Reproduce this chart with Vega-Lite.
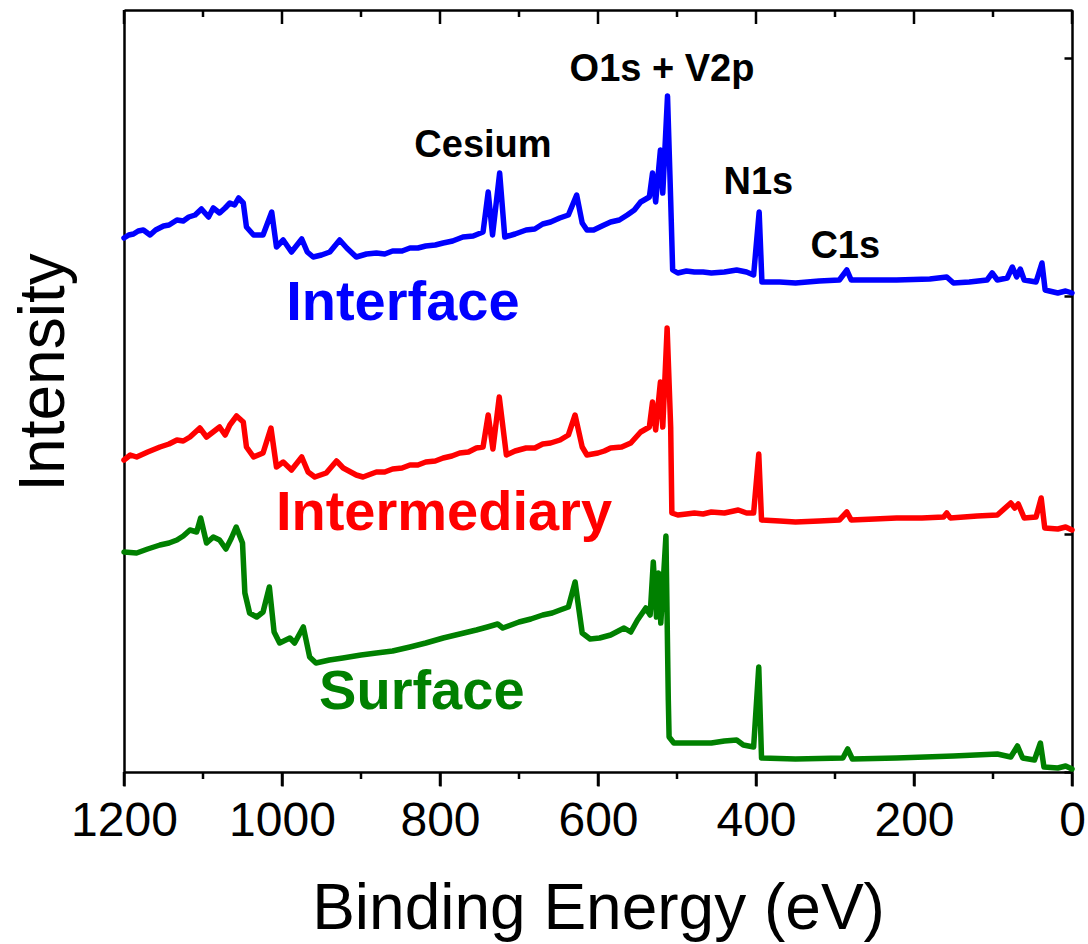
{
  "$schema": "https://vega.github.io/schema/vega-lite/v6.json",
  "width": 948,
  "height": 762,
  "autosize": {"type": "none"},
  "padding": {"left": 124, "top": 10, "right": 16, "bottom": 172},
  "background": "white",
  "config": {
    "view": {"stroke": null},
    "axis": {
      "domainColor": "black", "domainWidth": 2.5, "tickColor": "black", "tickWidth": 2.5,
      "grid": false, "labelFont": "Liberation Sans", "titleFont": "Liberation Sans",
      "labelColor": "black", "titleColor": "black", "titleFontWeight": "normal"
    }
  },
  "datasets": {
    "spectra": [
      {"series": "Interface", "energy": 1200, "intensity": 534},
      {"series": "Interface", "energy": 1194, "intensity": 537},
      {"series": "Interface", "energy": 1188, "intensity": 538},
      {"series": "Interface", "energy": 1182, "intensity": 541},
      {"series": "Interface", "energy": 1175.5, "intensity": 542},
      {"series": "Interface", "energy": 1167, "intensity": 537},
      {"series": "Interface", "energy": 1160, "intensity": 542},
      {"series": "Interface", "energy": 1150, "intensity": 546},
      {"series": "Interface", "energy": 1143, "intensity": 547},
      {"series": "Interface", "energy": 1133, "intensity": 552},
      {"series": "Interface", "energy": 1125, "intensity": 551},
      {"series": "Interface", "energy": 1118, "intensity": 555},
      {"series": "Interface", "energy": 1110, "intensity": 557},
      {"series": "Interface", "energy": 1102, "intensity": 563},
      {"series": "Interface", "energy": 1093, "intensity": 555},
      {"series": "Interface", "energy": 1087, "intensity": 564},
      {"series": "Interface", "energy": 1079, "intensity": 559},
      {"series": "Interface", "energy": 1072, "intensity": 564},
      {"series": "Interface", "energy": 1066, "intensity": 569},
      {"series": "Interface", "energy": 1060, "intensity": 567},
      {"series": "Interface", "energy": 1055, "intensity": 574},
      {"series": "Interface", "energy": 1049, "intensity": 569},
      {"series": "Interface", "energy": 1045, "intensity": 545},
      {"series": "Interface", "energy": 1036, "intensity": 537},
      {"series": "Interface", "energy": 1024, "intensity": 537},
      {"series": "Interface", "energy": 1013, "intensity": 560},
      {"series": "Interface", "energy": 1007, "intensity": 525},
      {"series": "Interface", "energy": 998.5, "intensity": 532},
      {"series": "Interface", "energy": 988, "intensity": 520},
      {"series": "Interface", "energy": 975, "intensity": 533},
      {"series": "Interface", "energy": 968, "intensity": 520},
      {"series": "Interface", "energy": 960.5, "intensity": 515},
      {"series": "Interface", "energy": 950, "intensity": 517},
      {"series": "Interface", "energy": 939.5, "intensity": 520},
      {"series": "Interface", "energy": 927, "intensity": 532},
      {"series": "Interface", "energy": 918, "intensity": 524},
      {"series": "Interface", "energy": 906, "intensity": 515},
      {"series": "Interface", "energy": 893, "intensity": 518},
      {"series": "Interface", "energy": 880.5, "intensity": 519},
      {"series": "Interface", "energy": 870, "intensity": 518},
      {"series": "Interface", "energy": 860, "intensity": 521},
      {"series": "Interface", "energy": 848, "intensity": 521},
      {"series": "Interface", "energy": 838, "intensity": 524},
      {"series": "Interface", "energy": 828, "intensity": 524},
      {"series": "Interface", "energy": 818, "intensity": 526},
      {"series": "Interface", "energy": 806, "intensity": 527},
      {"series": "Interface", "energy": 796, "intensity": 529},
      {"series": "Interface", "energy": 784, "intensity": 531},
      {"series": "Interface", "energy": 771, "intensity": 535},
      {"series": "Interface", "energy": 758, "intensity": 536},
      {"series": "Interface", "energy": 745.5, "intensity": 540},
      {"series": "Interface", "energy": 739, "intensity": 580},
      {"series": "Interface", "energy": 733.5, "intensity": 537},
      {"series": "Interface", "energy": 724.5, "intensity": 599},
      {"series": "Interface", "energy": 718, "intensity": 535},
      {"series": "Interface", "energy": 705, "intensity": 538},
      {"series": "Interface", "energy": 691, "intensity": 542},
      {"series": "Interface", "energy": 680, "intensity": 543},
      {"series": "Interface", "energy": 670, "intensity": 548},
      {"series": "Interface", "energy": 660, "intensity": 550},
      {"series": "Interface", "energy": 648.5, "intensity": 554},
      {"series": "Interface", "energy": 637.5, "intensity": 557},
      {"series": "Interface", "energy": 627, "intensity": 577},
      {"series": "Interface", "energy": 620, "intensity": 549},
      {"series": "Interface", "energy": 614, "intensity": 542},
      {"series": "Interface", "energy": 605.5, "intensity": 542},
      {"series": "Interface", "energy": 595, "intensity": 546},
      {"series": "Interface", "energy": 584, "intensity": 550},
      {"series": "Interface", "energy": 573, "intensity": 552},
      {"series": "Interface", "energy": 563, "intensity": 557},
      {"series": "Interface", "energy": 554, "intensity": 562},
      {"series": "Interface", "energy": 546, "intensity": 570},
      {"series": "Interface", "energy": 535, "intensity": 575},
      {"series": "Interface", "energy": 531, "intensity": 599},
      {"series": "Interface", "energy": 527, "intensity": 570},
      {"series": "Interface", "energy": 521, "intensity": 622},
      {"series": "Interface", "energy": 518, "intensity": 579},
      {"series": "Interface", "energy": 512, "intensity": 676},
      {"series": "Interface", "energy": 508, "intensity": 572},
      {"series": "Interface", "energy": 505.5, "intensity": 502},
      {"series": "Interface", "energy": 499, "intensity": 499},
      {"series": "Interface", "energy": 488, "intensity": 501},
      {"series": "Interface", "energy": 478, "intensity": 500},
      {"series": "Interface", "energy": 467, "intensity": 500},
      {"series": "Interface", "energy": 456.5, "intensity": 499},
      {"series": "Interface", "energy": 440, "intensity": 500},
      {"series": "Interface", "energy": 424.5, "intensity": 502},
      {"series": "Interface", "energy": 412, "intensity": 500},
      {"series": "Interface", "energy": 403, "intensity": 497},
      {"series": "Interface", "energy": 396, "intensity": 560},
      {"series": "Interface", "energy": 392.5, "intensity": 490},
      {"series": "Interface", "energy": 370, "intensity": 490},
      {"series": "Interface", "energy": 350, "intensity": 489},
      {"series": "Interface", "energy": 320, "intensity": 491},
      {"series": "Interface", "energy": 294.5, "intensity": 492},
      {"series": "Interface", "energy": 285, "intensity": 502},
      {"series": "Interface", "energy": 279.5, "intensity": 492},
      {"series": "Interface", "energy": 250, "intensity": 492},
      {"series": "Interface", "energy": 222, "intensity": 492},
      {"series": "Interface", "energy": 180, "intensity": 493},
      {"series": "Interface", "energy": 158.5, "intensity": 495},
      {"series": "Interface", "energy": 150, "intensity": 489},
      {"series": "Interface", "energy": 130, "intensity": 490},
      {"series": "Interface", "energy": 107.5, "intensity": 492},
      {"series": "Interface", "energy": 101, "intensity": 499},
      {"series": "Interface", "energy": 94.5, "intensity": 492},
      {"series": "Interface", "energy": 82, "intensity": 494},
      {"series": "Interface", "energy": 75.5, "intensity": 505},
      {"series": "Interface", "energy": 70, "intensity": 495},
      {"series": "Interface", "energy": 65.5, "intensity": 503},
      {"series": "Interface", "energy": 60.5, "intensity": 492},
      {"series": "Interface", "energy": 45.5, "intensity": 490},
      {"series": "Interface", "energy": 38, "intensity": 509},
      {"series": "Interface", "energy": 34, "intensity": 482},
      {"series": "Interface", "energy": 18, "intensity": 479},
      {"series": "Interface", "energy": 8, "intensity": 481},
      {"series": "Interface", "energy": 0, "intensity": 479},

      {"series": "Intermediary", "energy": 1200, "intensity": 312},
      {"series": "Intermediary", "energy": 1192, "intensity": 317},
      {"series": "Intermediary", "energy": 1184, "intensity": 315},
      {"series": "Intermediary", "energy": 1170, "intensity": 320},
      {"series": "Intermediary", "energy": 1154.5, "intensity": 325},
      {"series": "Intermediary", "energy": 1143, "intensity": 328},
      {"series": "Intermediary", "energy": 1133, "intensity": 332},
      {"series": "Intermediary", "energy": 1125, "intensity": 331},
      {"series": "Intermediary", "energy": 1116.5, "intensity": 335},
      {"series": "Intermediary", "energy": 1104, "intensity": 344},
      {"series": "Intermediary", "energy": 1095.5, "intensity": 335},
      {"series": "Intermediary", "energy": 1079, "intensity": 345},
      {"series": "Intermediary", "energy": 1072, "intensity": 337},
      {"series": "Intermediary", "energy": 1066, "intensity": 347},
      {"series": "Intermediary", "energy": 1057.5, "intensity": 356},
      {"series": "Intermediary", "energy": 1049, "intensity": 350},
      {"series": "Intermediary", "energy": 1045, "intensity": 325},
      {"series": "Intermediary", "energy": 1036, "intensity": 315},
      {"series": "Intermediary", "energy": 1024, "intensity": 319},
      {"series": "Intermediary", "energy": 1014, "intensity": 344},
      {"series": "Intermediary", "energy": 1007, "intensity": 305},
      {"series": "Intermediary", "energy": 998.5, "intensity": 310},
      {"series": "Intermediary", "energy": 988, "intensity": 302},
      {"series": "Intermediary", "energy": 975, "intensity": 315},
      {"series": "Intermediary", "energy": 967, "intensity": 300},
      {"series": "Intermediary", "energy": 958.5, "intensity": 295},
      {"series": "Intermediary", "energy": 944, "intensity": 299},
      {"series": "Intermediary", "energy": 931, "intensity": 311},
      {"series": "Intermediary", "energy": 922.5, "intensity": 304},
      {"series": "Intermediary", "energy": 906, "intensity": 297},
      {"series": "Intermediary", "energy": 897.5, "intensity": 295},
      {"series": "Intermediary", "energy": 880.5, "intensity": 300},
      {"series": "Intermediary", "energy": 870, "intensity": 300},
      {"series": "Intermediary", "energy": 860, "intensity": 303},
      {"series": "Intermediary", "energy": 848, "intensity": 304},
      {"series": "Intermediary", "energy": 838, "intensity": 307},
      {"series": "Intermediary", "energy": 828, "intensity": 307},
      {"series": "Intermediary", "energy": 818, "intensity": 310},
      {"series": "Intermediary", "energy": 806, "intensity": 311},
      {"series": "Intermediary", "energy": 796, "intensity": 314},
      {"series": "Intermediary", "energy": 785, "intensity": 316},
      {"series": "Intermediary", "energy": 775, "intensity": 319},
      {"series": "Intermediary", "energy": 764, "intensity": 320},
      {"series": "Intermediary", "energy": 754, "intensity": 324},
      {"series": "Intermediary", "energy": 745.5, "intensity": 325},
      {"series": "Intermediary", "energy": 739, "intensity": 357},
      {"series": "Intermediary", "energy": 733, "intensity": 323},
      {"series": "Intermediary", "energy": 725, "intensity": 375},
      {"series": "Intermediary", "energy": 716, "intensity": 317},
      {"series": "Intermediary", "energy": 705, "intensity": 321},
      {"series": "Intermediary", "energy": 691, "intensity": 324},
      {"series": "Intermediary", "energy": 680, "intensity": 324},
      {"series": "Intermediary", "energy": 670, "intensity": 328},
      {"series": "Intermediary", "energy": 660, "intensity": 329},
      {"series": "Intermediary", "energy": 648, "intensity": 332},
      {"series": "Intermediary", "energy": 637.5, "intensity": 337},
      {"series": "Intermediary", "energy": 629, "intensity": 357},
      {"series": "Intermediary", "energy": 620, "intensity": 325},
      {"series": "Intermediary", "energy": 614, "intensity": 317},
      {"series": "Intermediary", "energy": 600, "intensity": 319},
      {"series": "Intermediary", "energy": 592, "intensity": 321},
      {"series": "Intermediary", "energy": 584, "intensity": 324},
      {"series": "Intermediary", "energy": 570, "intensity": 325},
      {"series": "Intermediary", "energy": 558.5, "intensity": 329},
      {"series": "Intermediary", "energy": 546, "intensity": 340},
      {"series": "Intermediary", "energy": 535, "intensity": 345},
      {"series": "Intermediary", "energy": 531, "intensity": 370},
      {"series": "Intermediary", "energy": 527, "intensity": 342},
      {"series": "Intermediary", "energy": 521, "intensity": 390},
      {"series": "Intermediary", "energy": 518, "intensity": 345},
      {"series": "Intermediary", "energy": 512.5, "intensity": 444},
      {"series": "Intermediary", "energy": 508, "intensity": 345},
      {"series": "Intermediary", "energy": 506.5, "intensity": 259},
      {"series": "Intermediary", "energy": 499, "intensity": 257},
      {"series": "Intermediary", "energy": 488, "intensity": 258},
      {"series": "Intermediary", "energy": 478, "intensity": 259},
      {"series": "Intermediary", "energy": 467, "intensity": 258},
      {"series": "Intermediary", "energy": 456.5, "intensity": 260},
      {"series": "Intermediary", "energy": 440, "intensity": 259},
      {"series": "Intermediary", "energy": 422.5, "intensity": 262},
      {"series": "Intermediary", "energy": 412, "intensity": 259},
      {"series": "Intermediary", "energy": 403, "intensity": 259},
      {"series": "Intermediary", "energy": 396.5, "intensity": 318},
      {"series": "Intermediary", "energy": 393, "intensity": 252},
      {"series": "Intermediary", "energy": 370, "intensity": 251},
      {"series": "Intermediary", "energy": 350, "intensity": 250},
      {"series": "Intermediary", "energy": 320, "intensity": 251},
      {"series": "Intermediary", "energy": 294.5, "intensity": 252},
      {"series": "Intermediary", "energy": 285, "intensity": 260},
      {"series": "Intermediary", "energy": 279.5, "intensity": 252},
      {"series": "Intermediary", "energy": 250, "intensity": 253},
      {"series": "Intermediary", "energy": 222, "intensity": 254},
      {"series": "Intermediary", "energy": 190, "intensity": 254},
      {"series": "Intermediary", "energy": 162.5, "intensity": 255},
      {"series": "Intermediary", "energy": 158.5, "intensity": 259},
      {"series": "Intermediary", "energy": 154, "intensity": 254},
      {"series": "Intermediary", "energy": 120, "intensity": 256},
      {"series": "Intermediary", "energy": 94.5, "intensity": 257},
      {"series": "Intermediary", "energy": 77.5, "intensity": 269},
      {"series": "Intermediary", "energy": 72.5, "intensity": 264},
      {"series": "Intermediary", "energy": 68, "intensity": 268},
      {"series": "Intermediary", "energy": 60.5, "intensity": 254},
      {"series": "Intermediary", "energy": 45.5, "intensity": 255},
      {"series": "Intermediary", "energy": 39, "intensity": 274},
      {"series": "Intermediary", "energy": 34.5, "intensity": 244},
      {"series": "Intermediary", "energy": 18, "intensity": 243},
      {"series": "Intermediary", "energy": 8, "intensity": 245},
      {"series": "Intermediary", "energy": 0, "intensity": 242},

      {"series": "Surface", "energy": 1200, "intensity": 220},
      {"series": "Surface", "energy": 1184, "intensity": 219},
      {"series": "Surface", "energy": 1170, "intensity": 223},
      {"series": "Surface", "energy": 1154.5, "intensity": 227},
      {"series": "Surface", "energy": 1143, "intensity": 229},
      {"series": "Surface", "energy": 1133, "intensity": 232},
      {"series": "Surface", "energy": 1125, "intensity": 236},
      {"series": "Surface", "energy": 1116.5, "intensity": 242},
      {"series": "Surface", "energy": 1108, "intensity": 240},
      {"series": "Surface", "energy": 1103, "intensity": 254},
      {"series": "Surface", "energy": 1095.5, "intensity": 229},
      {"series": "Surface", "energy": 1087, "intensity": 235},
      {"series": "Surface", "energy": 1079, "intensity": 232},
      {"series": "Surface", "energy": 1071, "intensity": 223},
      {"series": "Surface", "energy": 1064, "intensity": 234},
      {"series": "Surface", "energy": 1058, "intensity": 245},
      {"series": "Surface", "energy": 1050, "intensity": 229},
      {"series": "Surface", "energy": 1047, "intensity": 179},
      {"series": "Surface", "energy": 1041, "intensity": 159},
      {"series": "Surface", "energy": 1032, "intensity": 155},
      {"series": "Surface", "energy": 1024, "intensity": 160},
      {"series": "Surface", "energy": 1016, "intensity": 185},
      {"series": "Surface", "energy": 1010, "intensity": 140},
      {"series": "Surface", "energy": 1003, "intensity": 129},
      {"series": "Surface", "energy": 990, "intensity": 134},
      {"series": "Surface", "energy": 984, "intensity": 129},
      {"series": "Surface", "energy": 973, "intensity": 145},
      {"series": "Surface", "energy": 965, "intensity": 115},
      {"series": "Surface", "energy": 957, "intensity": 109},
      {"series": "Surface", "energy": 940, "intensity": 112},
      {"series": "Surface", "energy": 923, "intensity": 114},
      {"series": "Surface", "energy": 900, "intensity": 117},
      {"series": "Surface", "energy": 880.5, "intensity": 119},
      {"series": "Surface", "energy": 860, "intensity": 121},
      {"series": "Surface", "energy": 838, "intensity": 125},
      {"series": "Surface", "energy": 818, "intensity": 129},
      {"series": "Surface", "energy": 796, "intensity": 134},
      {"series": "Surface", "energy": 775, "intensity": 138},
      {"series": "Surface", "energy": 754, "intensity": 142},
      {"series": "Surface", "energy": 740, "intensity": 145},
      {"series": "Surface", "energy": 727, "intensity": 148},
      {"series": "Surface", "energy": 720.5, "intensity": 144},
      {"series": "Surface", "energy": 700, "intensity": 150},
      {"series": "Surface", "energy": 685, "intensity": 153},
      {"series": "Surface", "energy": 670, "intensity": 157},
      {"series": "Surface", "energy": 658, "intensity": 159},
      {"series": "Surface", "energy": 648, "intensity": 162},
      {"series": "Surface", "energy": 637.5, "intensity": 165},
      {"series": "Surface", "energy": 629, "intensity": 190},
      {"series": "Surface", "energy": 620, "intensity": 139},
      {"series": "Surface", "energy": 610, "intensity": 133},
      {"series": "Surface", "energy": 598, "intensity": 134},
      {"series": "Surface", "energy": 584, "intensity": 137},
      {"series": "Surface", "energy": 567, "intensity": 144},
      {"series": "Surface", "energy": 558.5, "intensity": 140},
      {"series": "Surface", "energy": 550, "intensity": 152},
      {"series": "Surface", "energy": 539.5, "intensity": 164},
      {"series": "Surface", "energy": 534, "intensity": 157},
      {"series": "Surface", "energy": 530, "intensity": 210},
      {"series": "Surface", "energy": 526, "intensity": 155},
      {"series": "Surface", "energy": 523.5, "intensity": 199},
      {"series": "Surface", "energy": 520.5, "intensity": 149},
      {"series": "Surface", "energy": 514, "intensity": 236},
      {"series": "Surface", "energy": 511, "intensity": 72},
      {"series": "Surface", "energy": 510, "intensity": 35},
      {"series": "Surface", "energy": 504, "intensity": 29},
      {"series": "Surface", "energy": 480, "intensity": 29},
      {"series": "Surface", "energy": 456.5, "intensity": 29},
      {"series": "Surface", "energy": 440, "intensity": 31},
      {"series": "Surface", "energy": 424.5, "intensity": 32},
      {"series": "Surface", "energy": 416, "intensity": 27},
      {"series": "Surface", "energy": 403, "intensity": 25},
      {"series": "Surface", "energy": 396.5, "intensity": 105},
      {"series": "Surface", "energy": 393, "intensity": 14},
      {"series": "Surface", "energy": 350, "intensity": 13},
      {"series": "Surface", "energy": 290, "intensity": 14},
      {"series": "Surface", "energy": 284, "intensity": 23},
      {"series": "Surface", "energy": 278, "intensity": 13},
      {"series": "Surface", "energy": 222, "intensity": 14},
      {"series": "Surface", "energy": 150, "intensity": 16},
      {"series": "Surface", "energy": 94.5, "intensity": 18},
      {"series": "Surface", "energy": 77.5, "intensity": 15},
      {"series": "Surface", "energy": 69, "intensity": 26},
      {"series": "Surface", "energy": 62.5, "intensity": 14},
      {"series": "Surface", "energy": 47.5, "intensity": 12},
      {"series": "Surface", "energy": 40, "intensity": 29},
      {"series": "Surface", "energy": 35.5, "intensity": 5},
      {"series": "Surface", "energy": 18, "intensity": 4},
      {"series": "Surface", "energy": 8, "intensity": 6},
      {"series": "Surface", "energy": 0, "intensity": 3}
    ],
    "names": [
      {"series": "Interface", "energy": 847, "intensity": 469},
      {"series": "Intermediary", "energy": 795, "intensity": 259},
      {"series": "Surface", "energy": 823, "intensity": 80}
    ],
    "peaks": [
      {"label": "Cesium", "energy": 745.6, "intensity": 626.5},
      {"label": "O1s + V2p", "energy": 519, "intensity": 702},
      {"label": "N1s", "energy": 397, "intensity": 589.5},
      {"label": "C1s", "energy": 287, "intensity": 525.5}
    ],
    "xticks": [
      {"energy": 0, "kind": "major"}, {"energy": 200, "kind": "major"}, {"energy": 400, "kind": "major"},
      {"energy": 600, "kind": "major"}, {"energy": 800, "kind": "major"}, {"energy": 1000, "kind": "major"},
      {"energy": 1200, "kind": "major"},
      {"energy": 100, "kind": "minor"}, {"energy": 300, "kind": "minor"}, {"energy": 500, "kind": "minor"},
      {"energy": 700, "kind": "minor"}, {"energy": 900, "kind": "minor"}, {"energy": 1100, "kind": "minor"}
    ]
  },
  "layer": [
    {
      "data": {"name": "spectra"},
      "mark": {"type": "line", "strokeWidth": 5.5, "strokeJoin": "round", "strokeCap": "round"},
      "encoding": {
        "x": {
          "field": "energy", "type": "quantitative",
          "scale": {"domain": [1200, 0], "nice": false, "zero": false},
          "axis": {
            "orient": "bottom",
            "values": [0, 200, 400, 600, 800, 1000, 1200],
            "format": "d",
            "ticks": true, "tickColor": "black", "tickOpacity": 1, "tickWidth": 2.5,
            "tickSize": 14,
            "labelFontSize": 48, "labelPadding": 11, "labelOverlap": false, "labelFlush": false, "labelBound": false,
            "title": "Binding Energy (eV)", "titleFontSize": 64, "titlePadding": 32
          }
        },
        "y": {
          "field": "intensity", "type": "quantitative",
          "scale": {"domain": [0, 762], "nice": false, "zero": false},
          "axis": {"orient": "left", "ticks": false, "labels": false, "title": "Intensity", "titleFontSize": 64, "titlePadding": 48, "titleY": 362}
        },
        "color": {
          "field": "series", "type": "nominal",
          "scale": {"domain": ["Interface", "Intermediary", "Surface"], "range": ["#0000FF", "#FF0000", "#008000"]},
          "legend": null
        }
      }
    },
    {
      "data": {"name": "names"},
      "mark": {"type": "text", "font": "Liberation Sans", "fontWeight": "bold", "fontSize": 56, "align": "center", "baseline": "middle"},
      "encoding": {
        "x": {
          "field": "energy", "type": "quantitative",
          "scale": {"domain": [1200, 0], "nice": false, "zero": false},
          "axis": {"orient": "top", "labels": false, "title": null, "ticks": false}
        },
        "y": {
          "field": "intensity", "type": "quantitative",
          "scale": {"domain": [0, 762], "nice": false, "zero": false},
          "axis": {"orient": "right", "labels": false, "title": null, "values": [0, 238, 476, 714], "tickSize": -8}
        },
        "color": {"field": "series", "type": "nominal", "legend": null},
        "text": {"field": "series", "type": "nominal"}
      }
    },
    {
      "data": {"name": "peaks"},
      "mark": {"type": "text", "font": "Liberation Sans", "fontWeight": "bold", "fontSize": 38, "align": "center", "baseline": "middle", "color": "black"},
      "encoding": {
        "x": {"field": "energy", "type": "quantitative", "scale": {"domain": [1200, 0], "nice": false, "zero": false}, "axis": null},
        "y": {"field": "intensity", "type": "quantitative", "scale": {"domain": [0, 762], "nice": false, "zero": false}, "axis": null},
        "text": {"field": "label", "type": "nominal"}
      }
    },
    {
      "data": {"name": "xticks"},
      "transform": [{"filter": "datum.kind === 'major'"}],
      "mark": {"type": "tick", "orient": "vertical", "size": 14, "thickness": 2.5, "color": "black", "opacity": 1, "yOffset": 7},
      "encoding": {
        "x": {"field": "energy", "type": "quantitative", "scale": {"domain": [1200, 0], "nice": false, "zero": false}, "axis": null},
        "y": {"datum": 0, "type": "quantitative", "scale": {"domain": [0, 762], "nice": false, "zero": false}, "axis": null}
      }
    },
    {
      "data": {"name": "xticks"},
      "transform": [{"filter": "datum.kind === 'minor'"}],
      "mark": {"type": "tick", "orient": "vertical", "size": 7, "thickness": 2.5, "color": "black", "opacity": 1, "yOffset": 3.5},
      "encoding": {
        "x": {"field": "energy", "type": "quantitative", "scale": {"domain": [1200, 0], "nice": false, "zero": false}, "axis": null},
        "y": {"datum": 0, "type": "quantitative", "scale": {"domain": [0, 762], "nice": false, "zero": false}, "axis": null}
      }
    },
    {
      "data": {"name": "xticks"},
      "transform": [{"filter": "datum.kind === 'major'"}],
      "mark": {"type": "tick", "orient": "vertical", "size": 14, "thickness": 2.5, "color": "black", "opacity": 1, "yOffset": 7},
      "encoding": {
        "x": {"field": "energy", "type": "quantitative", "scale": {"domain": [1200, 0], "nice": false, "zero": false}, "axis": null},
        "y": {"datum": 762, "type": "quantitative", "scale": {"domain": [0, 762], "nice": false, "zero": false}, "axis": null}
      }
    },
    {
      "data": {"name": "xticks"},
      "transform": [{"filter": "datum.kind === 'minor'"}],
      "mark": {"type": "tick", "orient": "vertical", "size": 7, "thickness": 2.5, "color": "black", "opacity": 1, "yOffset": 3.5},
      "encoding": {
        "x": {"field": "energy", "type": "quantitative", "scale": {"domain": [1200, 0], "nice": false, "zero": false}, "axis": null},
        "y": {"datum": 762, "type": "quantitative", "scale": {"domain": [0, 762], "nice": false, "zero": false}, "axis": null}
      }
    }
  ],
  "resolve": {"axis": {"x": "independent", "y": "independent"}}
}
